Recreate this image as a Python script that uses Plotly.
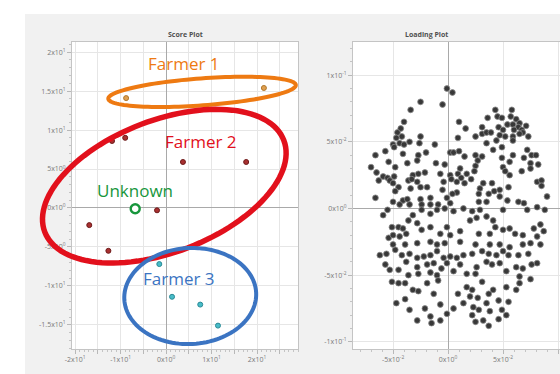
import numpy as np
import plotly.graph_objects as go

# ---------------- data ----------------
farmer1_x = [-8.8, 21.5]
farmer1_y = [14.1, 15.4]
farmer2_x = [-11.9, -9.0, 3.7, 17.6, -2.0, -16.9, -12.7]
farmer2_y = [8.6, 9.0, 5.9, 5.9, -0.3, -2.2, -5.5]
farmer3_x = [-1.5, 1.3, 7.5, 11.4]
farmer3_y = [-7.2, -11.4, -12.4, -15.1]
unknown_x = [-6.8]
unknown_y = [-0.1]

# loading values in units of 1e-3
loading_pairs_e3 = [
    (-1, 90), (4, 87), (-5, 78), (-25, 80), (-34, 74), (-40, 65), (-43, 60), (-46, 57), (-42, 54), (-25, 54),
    (10, 65), (16, 60), (25, 54), (31, 61), (31, 56), (35, 57), (39, 57), (36, 68), (43, 74), (45, 69),
    (49, 68), (58, 74), (57, 69), (62, 67), (65, 64), (46, 61), (50, 59), (54, 63), (59, 63), (64, 61),
    (67, 59), (71, 62), (68, 57), (73, 54), (47, 55), (52, 54), (59, 54), (9, 53), (-47, 53), (60, 59),
    (65, 56), (-50, 48), (-44, 49), (-40, 48), (-35, 50), (-26, 49), (-12, 48), (-66, 40), (-57, 43), (-49, 46),
    (-41, 41), (-27, 40), (-20, 42), (2, 42), (-54, 35), (-37, 34), (-28, 36), (-11, 34), (-3, 33), (-70, 31),
    (-48, 31), (-65, 27), (-59, 24), (-55, 23), (-49, 24), (-32, 25), (-27, 26), (-21, 27), (-7, 26), (2, 25),
    (-53, 21), (-50, 19), (-36, 21), (-33, 22), (-45, 16), (-34, 15), (-25, 16), (-19, 16), (-4, 20), (3, 22),
    (-48, 13), (-5, 14), (-16, 8), (-9, 3), (-66, 8), (-41, 6), (-37, 7), (-25, 7), (-1, 8), (2, 4),
    (-44, 3), (-24, 3), (-63, 21), (-59, -5), (-55, -1), (-28, 20), (-50, 5), (-35, 3), (-16, 3), (-51, -14),
    (-45, -14), (-41, -15), (-36, -9), (-32, -5), (-24, -1), (-16, -4), (-10, -1), (-3, 0), (5, -2), (14, 0),
    (22, -2), (29, -1), (35, -6), (26, -7), (41, -9), (50, -1), (64, 5), (72, -1), (81, 1), (88, -1),
    (-54, -22), (-50, -20), (-44, -21), (-38, -19), (-28, -11), (-24, -16), (-16, -14), (-7, -19), (-1, -14), (2, -20),
    (11, -17), (20, -9), (28, -19), (38, -19), (43, -14), (50, -16), (56, -15), (61, -19), (68, -20), (78, -15),
    (84, -12), (87, -17), (81, -21), (-50, -27), (-39, -27), (-28, -26), (-16, -25), (-10, -27), (-3, -26), (11, -25),
    (25, -27), (38, -27), (47, -27), (68, -27), (84, -27), (5, 42), (10, 43), (15, 39), (25, 40), (27, 36),
    (31, 39), (35, 49), (41, 44), (49, 46), (59, 51), (72, 44), (76, 40), (80, 40), (69, 38), (59, 40),
    (49, 38), (56, 35), (75, 34), (82, 33), (75, 30), (50, 31), (52, 28), (56, 25), (67, 28), (25, 32),
    (24, 28), (11, 30), (9, 26), (17, 26), (21, 22), (12, 23), (8, 20), (15, 19), (81, 20), (85, 21),
    (85, 17), (40, 19), (29, 15), (28, 11), (37, 11), (42, 13), (47, 9), (8, 12), (4, 11), (28, 5),
    (35, 5), (54, 6), (69, 4), (90, 9), (44, 51), (32, 19), (47, 14), (55, 16), (-62, -35), (-56, -34),
    (-48, -31), (-42, -35), (-35, -34), (-28, -37), (-22, -36), (-16, -35), (-10, -32), (-4, -37), (2, -36), (8, -37),
    (14, -35), (22, -34), (31, -32), (37, -34), (44, -35), (50, -32), (56, -29), (64, -35), (73, -34), (75, -26),
    (55, -35), (-57, -42), (-53, -46), (-45, -46), (-38, -40), (-28, -44), (-19, -42), (-13, -41), (-6, -45), (-1, -41),
    (5, -47), (11, -42), (17, -49), (25, -49), (26, -44), (35, -40), (40, -42), (47, -41), (53, -47), (62, -44),
    (68, -45), (76, -42), (81, -41), (-36, -50), (-27, -49), (-16, -48), (-10, -50), (65, -51), (75, -53), (-51, -55),
    (-45, -56), (-39, -56), (-32, -61), (-27, -62), (-19, -56), (-9, -54), (9, -64), (17, -59), (22, -61), (31, -55),
    (37, -64), (41, -61), (53, -59), (62, -61), (65, -56), (20, -66), (27, -67), (-13, -64), (-47, -71), (-39, -68),
    (-7, -72), (14, -71), (23, -74), (35, -71), (46, -69), (55, -70), (-35, -76), (-21, -75), (5, -75), (28, -76),
    (49, -76), (-1, -79), (22, -80), (38, -77), (-16, -81), (-28, -84), (-15, -86), (-7, -84), (25, -85), (32, -84),
    (46, -83), (37, -88), (53, -80),
]
loading_x = [p[0] * 1e-3 for p in loading_pairs_e3]
loading_y = [p[1] * 1e-3 for p in loading_pairs_e3]

score_x_ticks = [-20, -15, -10, -5, 0, 5, 10, 15, 20, 25]
score_x_text = ["-2x10<sup>1</sup>", "", "-1x10<sup>1</sup>", "", "0x10<sup>0</sup>", "", "1x10<sup>1</sup>", "", "2x10<sup>1</sup>", ""]
score_y_ticks = [-15, -10, -5, 0, 5, 10, 15, 20]
score_y_text = ["-1.5x10<sup>1</sup>", "-1x10<sup>1</sup>", "-5x10<sup>0</sup>", "0x10<sup>0</sup>",
                "5x10<sup>0</sup>", "1x10<sup>1</sup>", "1.5x10<sup>1</sup>", "2x10<sup>1</sup>"]
load_x_ticks = [-0.05, 0, 0.05, 0.1]
load_x_text = ["-5x10<sup>-2</sup>", "0x10<sup>0</sup>", "5x10<sup>-2</sup>", "1x10<sup>-1</sup>"]
load_y_ticks = [-0.1, -0.05, 0, 0.05, 0.1]
load_y_text = ["-1x10<sup>-1</sup>", "-5x10<sup>-2</sup>", "0x10<sup>0</sup>", "5x10<sup>-2</sup>", "1x10<sup>-1</sup>"]

# ---------------- layout geometry ----------------
W, H = 560, 374
score_xrange = [-20.7, 29.0]
score_yrange = [-18.1, 21.3]
load_xrange = [-0.0864, 0.1018]
load_yrange = [-0.1054, 0.1249]
dom_score_x = [72 / W, 298 / W]
dom_load_x = [353 / W, 1.0]
dom_y = [1 - 349 / H, 1 - 42 / H]

fig = go.Figure()

fig.add_trace(go.Scatter(x=farmer1_x, y=farmer1_y, mode="markers", xaxis="x", yaxis="y",
                         marker=dict(size=5, color="#e0a050", line=dict(width=1, color="#b0762a"))))
fig.add_trace(go.Scatter(x=farmer2_x, y=farmer2_y, mode="markers", xaxis="x", yaxis="y",
                         marker=dict(size=5, color="#a83030", line=dict(width=1, color="#6e1a1a"))))
fig.add_trace(go.Scatter(x=farmer3_x, y=farmer3_y, mode="markers", xaxis="x", yaxis="y",
                         marker=dict(size=5, color="#48bcc8", line=dict(width=1, color="#2a8a96"))))
fig.add_trace(go.Scatter(x=unknown_x, y=unknown_y, mode="markers", xaxis="x", yaxis="y",
                         marker=dict(size=9, color="white", line=dict(width=2.4, color="#17963c"))))
fig.add_trace(go.Scatter(x=loading_x, y=loading_y, mode="markers", xaxis="x2", yaxis="y2",
                         marker=dict(size=5.8, color="#383838", line=dict(width=0.8, color="#8a8a8a"))))

tickfont = dict(family="Open Sans, Arial, sans-serif", size=7, color="#7a7a7a")
axis_common = dict(showline=True, mirror=True, linecolor="#c4c4c4", linewidth=1,
                   showgrid=True, gridcolor="#e6e6e6", gridwidth=1,
                   zeroline=True, zerolinecolor="#a9a9a9", zerolinewidth=1,
                   ticks="outside", ticklen=4, tickcolor="#b8b8b8", tickfont=tickfont,
                   tickmode="array", automargin=False, fixedrange=True)

fig.update_layout(
    width=W, height=H, margin=dict(l=0, r=0, t=0, b=0),
    paper_bgcolor="white", plot_bgcolor="white", showlegend=False,
    xaxis=dict(domain=dom_score_x, range=score_xrange, anchor="y", tickvals=score_x_ticks,
               ticktext=score_x_text, minor=dict(dtick=1, ticks="outside", ticklen=2, tickcolor="#c4c4c4"),
               **axis_common),
    yaxis=dict(domain=dom_y, range=score_yrange, anchor="x", tickvals=score_y_ticks,
               ticktext=score_y_text, minor=dict(dtick=1, ticks="outside", ticklen=2, tickcolor="#c4c4c4"),
               **axis_common),
    xaxis2=dict(domain=dom_load_x, range=load_xrange, anchor="y2", tickvals=load_x_ticks,
                ticktext=load_x_text, minor=dict(dtick=0.01, ticks="outside", ticklen=2, tickcolor="#c4c4c4"),
                **axis_common),
    yaxis2=dict(domain=dom_y, range=load_yrange, anchor="x2", tickvals=load_y_ticks,
                ticktext=load_y_text, minor=dict(dtick=0.01, ticks="outside", ticklen=2, tickcolor="#c4c4c4"),
                **axis_common),
)


def to_paper(v, rng, dom):
    return dom[0] + (v - rng[0]) / (rng[1] - rng[0]) * (dom[1] - dom[0])


def ellipse_path(cx_data, cy_data, a_px, b_px, angle_deg):
    cx = to_paper(cx_data, score_xrange, dom_score_x)
    cy = to_paper(cy_data, score_yrange, dom_y)
    th = np.radians(angle_deg)
    t = np.linspace(0, 2 * np.pi, 121)
    dx = a_px * np.cos(t) * np.cos(th) - b_px * np.sin(t) * np.sin(th)
    dy = a_px * np.cos(t) * np.sin(th) + b_px * np.sin(t) * np.cos(th)
    xs = cx + dx / W
    ys = cy - dy / H
    return "M " + " L ".join(f"{x:.5f},{y:.5f}" for x, y in zip(xs, ys)) + " Z"


shapes = [
    dict(type="rect", xref="paper", yref="paper", x0=25 / W, x1=1.0, y0=0, y1=1 - 14 / H,
         fillcolor="#f1f1f1", line=dict(width=0), layer="below"),
    dict(type="rect", xref="paper", yref="paper", x0=dom_score_x[0], x1=dom_score_x[1], y0=dom_y[0], y1=dom_y[1],
         fillcolor="white", line=dict(width=0), layer="below"),
    dict(type="rect", xref="paper", yref="paper", x0=dom_load_x[0], x1=dom_load_x[1], y0=dom_y[0], y1=dom_y[1],
         fillcolor="white", line=dict(width=0), layer="below"),
    dict(type="path", xref="paper", yref="paper", path=ellipse_path(7.9, 14.9, 94, 13.5, -4.2),
         line=dict(color="#ee7a12", width=4), layer="above"),
    dict(type="path", xref="paper", yref="paper", path=ellipse_path(-0.4, 2.8, 128, 66, -21),
         line=dict(color="#e2101c", width=5.5), layer="above"),
    dict(type="path", xref="paper", yref="paper", path=ellipse_path(5.3, -11.3, 66, 48, -3),
         line=dict(color="#3b74c2", width=4), layer="above"),
]
fig.update_layout(shapes=shapes)

lab_font = "Open Sans, Arial, sans-serif"
annotations = [
    dict(text="Farmer 1", x=4.0, y=18.6, xref="x", yref="y", showarrow=False,
         font=dict(family=lab_font, size=17, color="#ee7a12")),
    dict(text="Farmer 2", x=7.7, y=8.5, xref="x", yref="y", showarrow=False,
         font=dict(family=lab_font, size=17, color="#e2101c")),
    dict(text="Unknown", x=-6.8, y=2.2, xref="x", yref="y", showarrow=False,
         font=dict(family=lab_font, size=17, color="#17963c")),
    dict(text="Farmer 3", x=2.9, y=-9.1, xref="x", yref="y", showarrow=False,
         font=dict(family=lab_font, size=17, color="#3b74c2")),
    dict(text="<b>Score Plot</b>", x=166 / W, y=1 - 28 / H, xref="paper", yref="paper", showarrow=False,
         font=dict(family=lab_font, size=7, color="#505050")),
    dict(text="<b>Loading Plot</b>", x=450 / W, y=1 - 28 / H, xref="paper", yref="paper", showarrow=False,
         font=dict(family=lab_font, size=7, color="#505050")),
]
fig.update_layout(annotations=annotations)

fig.write_html("out.html", config={"displayModeBar": False},
               post_script="document.body.style.margin='0px';document.body.style.overflow='hidden';")
